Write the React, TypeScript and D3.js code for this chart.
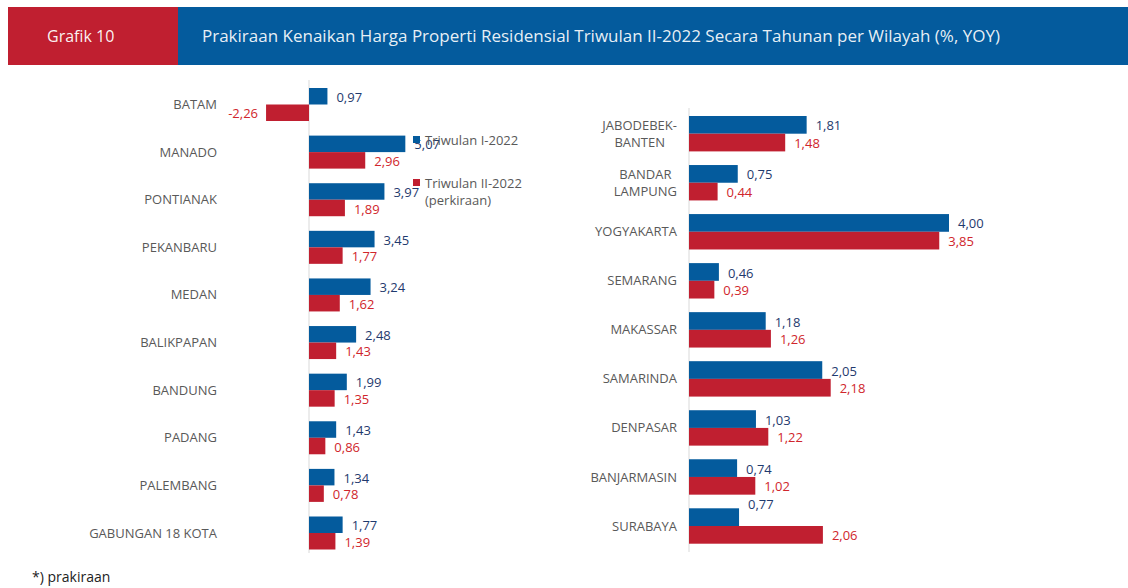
import React from "react";
import * as d3 from "d3";

const leftCities = ["BATAM", "MANADO", "PONTIANAK", "PEKANBARU", "MEDAN", "BALIKPAPAN", "BANDUNG", "PADANG", "PALEMBANG", "GABUNGAN 18 KOTA"];
const leftQ1 = [0.97, 5.07, 3.97, 3.45, 3.24, 2.48, 1.99, 1.43, 1.34, 1.77];
const leftQ2 = [-2.26, 2.96, 1.89, 1.77, 1.62, 1.43, 1.35, 0.86, 0.78, 1.39];

const rightCities = ["JABODEBEK-\nBANTEN", "BANDAR\nLAMPUNG", "YOGYAKARTA", "SEMARANG", "MAKASSAR", "SAMARINDA", "DENPASAR", "BANJARMASIN", "SURABAYA"];
const rightQ1 = [1.81, 0.75, 4.0, 0.46, 1.18, 2.05, 1.03, 0.74, 0.77];
const rightQ2 = [1.48, 0.44, 3.85, 0.39, 1.26, 2.18, 1.22, 1.02, 2.06];

const seriesNames = ["Triwulan I-2022", "Triwulan II-2022\n(perkiraan)"];
const headerLabel = "Grafik 10";
const titleText = "Prakiraan Kenaikan Harga Properti Residensial Triwulan II-2022 Secara Tahunan per Wilayah (%, YOY)";
const footnote = "*) prakiraan";

const BLUE = "#045b9d";
const RED = "#c01f30";
const BLUE_LBL = "#1f3a6e";
const RED_LBL = "#d0262c";
const CAT = "#595959";
const FONT = "'Open Sans', 'Segoe UI', sans-serif";

const fmt = (v: number) => d3.format(".2f")(v).replace(".", ",").replace("\u2212", "-");

let measureCtx: CanvasRenderingContext2D | null = null;
function textWidth(s: string, size: number) {
  if (!measureCtx) {
    const c = document.createElement("canvas");
    measureCtx = c.getContext("2d");
  }
  if (!measureCtx) return s.length * size * 0.6;
  measureCtx.font = `${size}px 'Open Sans'`;
  return measureCtx.measureText(s).width;
}

type PanelProps = {
  cats: string[];
  q1: number[];
  q2: number[];
  x: d3.ScaleLinear<number, number>;
  y: d3.ScalePoint<string>;
  barH: number;
  labelRight: number;
  axisTop: number;
  axisBottom: number;
  labelNudge?: Record<string, number>;
};

function Panel({ cats, q1, q2, x, y, barH, labelRight, axisTop, axisBottom, labelNudge = {} }: PanelProps) {
  const sub = d3.scaleBand<string>().domain(["q1", "q2"]).range([-barH, barH]).padding(0);
  const x0 = x(0);
  return (
    <g>
      <line x1={x0} x2={x0} y1={axisTop} y2={axisBottom} stroke="#d9d9d9" strokeWidth={1} />
      {cats.map((c, i) => {
        const cy = y(c) as number;
        const lines = c.split("\n");
        const maxW = Math.max(...lines.map((l) => textWidth(l, 13)));
        const series = [
          { key: "q1", v: q1[i], fill: BLUE, lc: BLUE_LBL },
          { key: "q2", v: q2[i], fill: RED, lc: RED_LBL },
        ];
        return (
          <g key={c}>
            {lines.length === 1 ? (
              <text x={labelRight} y={cy} dy="0.35em" textAnchor="end" fill={CAT} fontSize={13} fontFamily={FONT}>
                {c}
              </text>
            ) : (
              lines.map((l, li) => (
                <text
                  key={li}
                  x={labelRight - maxW / 2}
                  y={cy + (li - (lines.length - 1) / 2) * 17}
                  dy="0.35em"
                  textAnchor="middle"
                  fill={CAT}
                  fontSize={13}
                  fontFamily={FONT}
                >
                  {l}
                </text>
              ))
            )}
            {series.map((s) => {
              const by = cy + (sub(s.key) as number);
              const bw = sub.bandwidth();
              const xa = x(Math.min(0, s.v));
              const xb = x(Math.max(0, s.v));
              const neg = s.v < 0;
              const nudge = s.key === "q1" ? labelNudge[c] || 0 : 0;
              return (
                <g key={s.key}>
                  <rect x={xa} y={by} width={xb - xa} height={bw} fill={s.fill} />
                  <text
                    x={neg ? xa - 8 : xb + 9}
                    y={by + bw / 2 + 1 + nudge}
                    dy="0.35em"
                    textAnchor={neg ? "end" : "start"}
                    fill={s.lc}
                    fontSize={13}
                    fontFamily={FONT}
                  >
                    {fmt(s.v)}
                  </text>
                </g>
              );
            })}
          </g>
        );
      })}
    </g>
  );
}

export default function App() {
  const W = 1128;
  const H = 588;

  const xLeft = d3.scaleLinear().domain([0, 1]).range([309, 328]);
  const yLeft = d3.scalePoint<string>().domain(leftCities).range([104.5, 533]);

  const xRight = d3.scaleLinear().domain([0, 1]).range([689, 754]);
  const yRight = d3.scalePoint<string>().domain(rightCities).range([133.7, 526]);

  const legendItems = seriesNames.map((n, i) => ({ name: n, color: i === 0 ? BLUE : RED }));
  const legendY = [140, 183];

  return (
    <svg width={W} height={H} style={{ position: "absolute", left: 0, top: 0, background: "#fff" }}>
      <rect x={8} y={7} width={170} height={58} fill={RED} />
      <rect x={178} y={7} width={W - 178} height={58} fill={BLUE} />
      <text x={47} y={36} dy="0.35em" fill="#ffffff" fontSize={16} fontFamily={FONT} fillOpacity={0.95}>
        {headerLabel}
      </text>
      <text x={202} y={36} dy="0.35em" fill="#ffffff" fontSize={17} fontFamily={FONT} fillOpacity={0.92}>
        {titleText}
      </text>

      <Panel
        cats={leftCities}
        q1={leftQ1}
        q2={leftQ2}
        x={xLeft}
        y={yLeft}
        barH={16.5}
        labelRight={217}
        axisTop={80}
        axisBottom={553}
      />
      <Panel
        cats={rightCities}
        q1={rightQ1}
        q2={rightQ2}
        x={xRight}
        y={yRight}
        barH={17.7}
        labelRight={677}
        axisTop={108}
        axisBottom={552}
        labelNudge={{ SURABAYA: -14 }}
      />

      {legendItems.map((it, i) => (
        <g key={it.name}>
          <rect x={413} y={legendY[i] - 4} width={7} height={7} fill={it.color} />
          {it.name.split("\n").map((l, li) => (
            <text key={li} x={425} y={legendY[i] + li * 17.5} dy="0.35em" fill={CAT} fontSize={13} fontFamily={FONT}>
              {l}
            </text>
          ))}
        </g>
      ))}

      <text x={32} y={577} dy="0.35em" fill="#222" fontSize={14} fontFamily={FONT}>
        {footnote}
      </text>
    </svg>
  );
}
